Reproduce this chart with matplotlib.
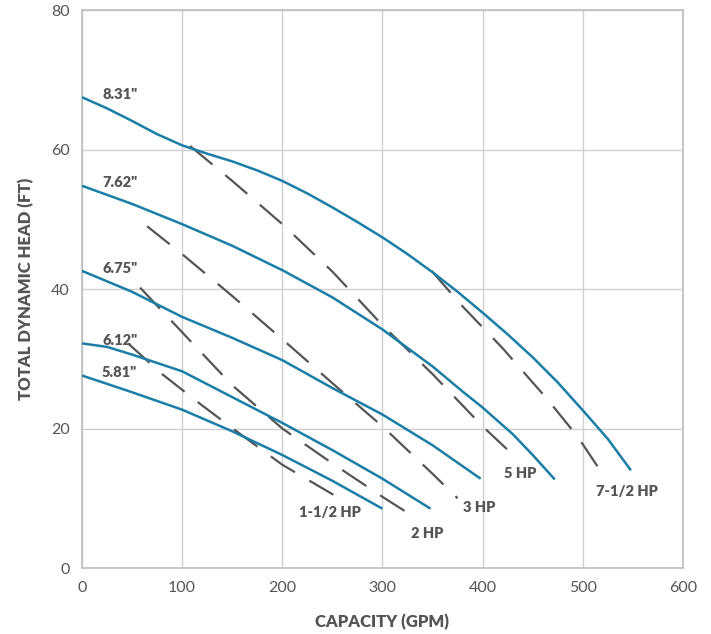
import numpy as np
import matplotlib.pyplot as plt

plt.rcParams['font.family'] = ['Lato', 'DejaVu Sans']

# impeller curves (GPM, FT)
q_831 = [0, 25, 50, 75, 100, 125, 150, 175, 200, 225, 250, 275, 300, 325, 350, 375, 400, 425, 450, 475, 500, 525, 548]
h_831 = [67.5, 65.9, 64.1, 62.2, 60.6, 59.4, 58.3, 57.0, 55.5, 53.7, 51.7, 49.6, 47.4, 45.0, 42.4, 39.6, 36.6, 33.5, 30.2, 26.6, 22.6, 18.5, 14.0]

q_762 = [0, 50, 100, 150, 200, 250, 300, 350, 380, 400, 430, 450, 472]
h_762 = [54.8, 52.2, 49.3, 46.2, 42.7, 38.8, 34.2, 28.9, 25.3, 23.0, 19.2, 16.2, 12.7]

q_675 = [0, 50, 100, 150, 200, 250, 300, 350, 398]
h_675 = [42.6, 39.6, 36.0, 33.0, 29.8, 25.8, 22.0, 17.6, 12.8]

q_612 = [0, 25, 50, 100, 150, 200, 250, 300, 348]
h_612 = [32.2, 31.7, 30.6, 28.2, 24.5, 20.8, 16.9, 12.8, 8.5]

q_581 = [0, 50, 100, 150, 200, 250, 300]
h_581 = [27.6, 25.2, 22.7, 19.6, 16.2, 12.5, 8.5]

impellers = ['8.31"', '7.62"', '6.75"', '6.12"', '5.81"']
curves = [(q_831, h_831), (q_762, h_762), (q_675, h_675), (q_612, h_612), (q_581, h_581)]

# horsepower lines
q_hp15 = [46, 80, 120, 160, 200, 251]
h_hp15 = [32.2, 27.8, 23.3, 19.0, 14.8, 10.5]
q_hp2 = [58, 100, 150, 200, 250, 300, 335]
h_hp2 = [40.2, 33.8, 26.2, 20.0, 15.0, 10.2, 7.0]
q_hp3 = [65, 100, 150, 200, 250, 300, 350, 375]
h_hp3 = [49.0, 45.0, 39.0, 32.8, 26.5, 20.3, 13.5, 10.0]
q_hp5 = [108, 150, 200, 250, 300, 350, 400, 432]
h_hp5 = [60.5, 55.5, 49.3, 42.5, 34.8, 27.8, 20.3, 16.0]
q_hp75 = [349, 380, 420, 464, 495, 522]
h_hp75 = [42.6, 37.5, 31.5, 24.3, 18.8, 13.0]

hp_labels = ['1-1/2 HP', '2 HP', '3 HP', '5 HP', '7-1/2 HP']
hp_lines = [(q_hp15, h_hp15), (q_hp2, h_hp2), (q_hp3, h_hp3), (q_hp5, h_hp5), (q_hp75, h_hp75)]
hp_label_pos = [(248, 7.9), (345, 5.0), (397, 8.7), (437, 13.5), (544, 10.9)]

blue = '#1a7ea6'
dark = '#555555'

fig = plt.figure(figsize=(7.11, 6.34), dpi=100)
ax = fig.add_axes([0.1153, 0.1041, 0.8453, 0.8801])

for (q, h) in hp_lines:
    ax.plot(q, h, color=dark, lw=1.6, dashes=(13, 7.5), zorder=2)

for name, (q, h) in zip(impellers, curves):
    ax.plot(q, h, color=blue, lw=1.8, zorder=3, solid_capstyle='butt')
    ax.text(20, h[0] + 0.4, name, fontsize=10.5, fontweight='heavy', color=dark,
            ha='left', va='center')

for name, (x, y) in zip(hp_labels, hp_label_pos):
    ax.text(x, y, name, fontsize=10.5, fontweight='heavy', color=dark,
            ha='center', va='center')

ax.set_xlim(0, 600)
ax.set_ylim(0, 80)
ax.set_xticks(np.arange(0, 601, 100))
ax.set_yticks(np.arange(0, 81, 20))
ax.grid(True, color='#d0d0d0', lw=1)
ax.set_axisbelow(True)
for s in ax.spines.values():
    s.set_color('#bdbdbd')
    s.set_linewidth(1.2)
ax.tick_params(length=0, labelsize=11.5, labelcolor=dark, pad=9)

ax.set_xlabel('CAPACITY (GPM)', fontsize=12, fontweight='heavy', color=dark, labelpad=14)
ax.set_ylabel('TOTAL DYNAMIC HEAD (FT)', fontsize=12, fontweight='heavy', color=dark, labelpad=12)

fig.savefig('out.png', dpi=100)
